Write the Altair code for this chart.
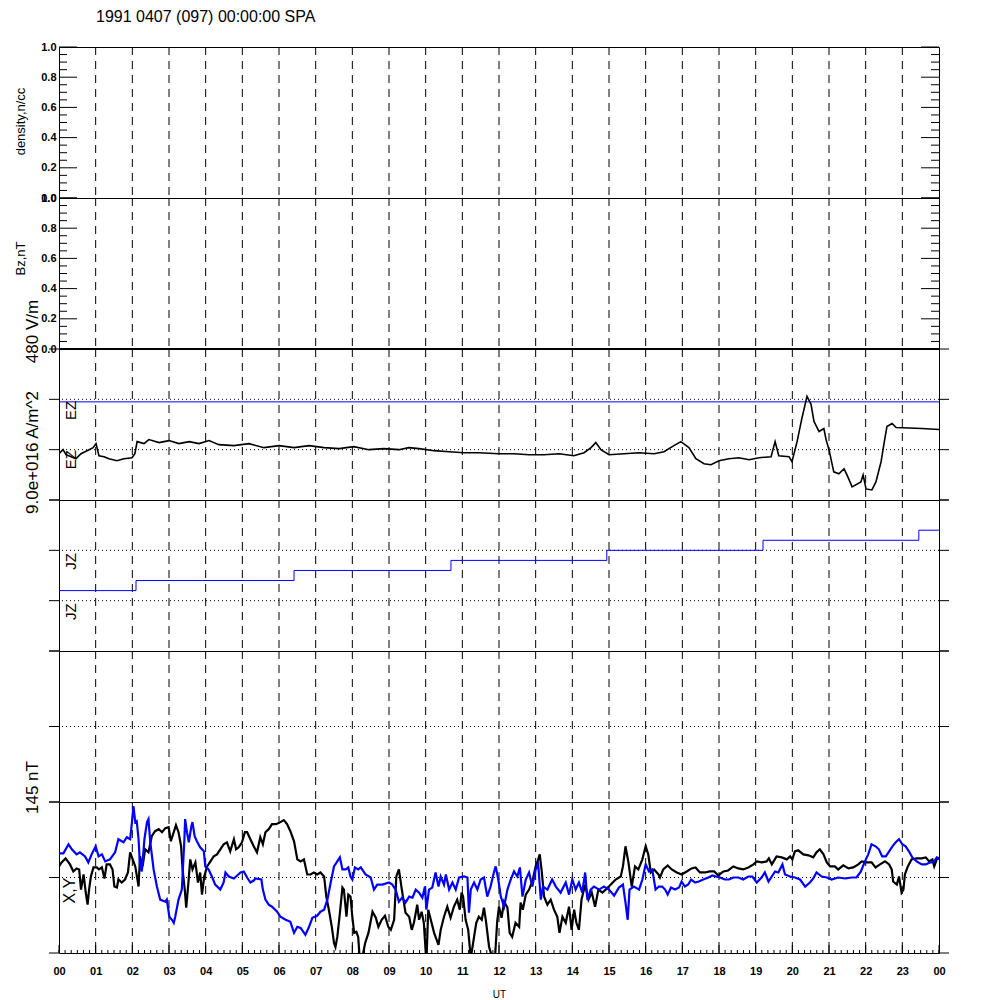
import altair as alt
import pandas as pd

FONT = "Liberation Sans"
W = 880
H = 151

# ---------------- data ----------------
title_text = "1991 0407 (097) 00:00:00 SPA"

unit_major = [0.0, 0.2, 0.4, 0.6, 0.8, 1.0]
unit_minor = [0.05, 0.1, 0.15, 0.25, 0.3, 0.35, 0.45, 0.5, 0.55, 0.65, 0.7, 0.75, 0.85, 0.9, 0.95]

hour_lines = list(range(1, 24))
hour_ticks = list(range(0, 25))
minor_ticks = [i / 6 for i in range(0, 145)]

bz_h = [0.0, 24.0]
bz_v = [0.0, 0.0]

ez_h = [0.00, 0.11, 0.19, 0.33, 0.46, 0.60, 0.71, 0.82, 0.93, 1.01, 1.09, 1.23, 1.36, 1.58, 1.77,
        1.99, 2.07, 2.13, 2.32, 2.45, 2.73, 3.00, 3.27, 3.55, 3.82, 4.09, 4.36, 4.77, 5.18, 5.59,
        6.00, 6.41, 6.82, 7.23, 7.64, 8.04, 8.45, 8.86, 9.27, 9.54, 9.82, 10.23, 10.64, 11.04,
        11.45, 12.00, 12.41, 12.82, 13.23, 13.64, 14.04, 14.32, 14.51, 14.64, 14.78, 15.00, 15.41,
        15.82, 16.23, 16.50, 16.77, 16.96, 17.18, 17.37, 17.59, 17.78, 18.00, 18.27, 18.54, 18.82,
        19.09, 19.42, 19.53, 19.63, 19.91, 19.99, 20.13, 20.26, 20.40, 20.51, 20.59, 20.73, 20.86,
        20.92, 21.00, 21.13, 21.27, 21.41, 21.49, 21.63, 21.87, 21.93, 22.01, 22.17, 22.28, 22.42,
        22.50, 22.58, 22.72, 22.83, 23.53, 24.00]
ez_v = [-4, 0, -5, -7, -9, -4, -2, 0, 2, 6, -6, -7, -9, -11, -9,
        -8, -4, 8, 6, 10, 7, 9, 6, 8, 6, 9, 5, 4, 6, 2,
        4, 2, 4, 2, 1, 3, 0, 1, 0, 2, 1, -1, -2, -3,
        -3, -4, -4, -5, -5, -4, -6, -3, 2, 7, 0, -5, -4,
        -3, -4, -2, 4, 8, 2, -9, -14, -15, -11, -9, -8, -10,
        -8, -7, 8, -6, -7, -12, 8, 31, 53, 45, 28, 18, 21,
        10, 0, -22, -24, -19, -25, -37, -32, -25, -39, -40, -32, -12,
        6, 23, 26, 22, 21, 20]

ey_h = [0.0, 24.0]
ey_v = [47.5, 47.5]

jz_h = [0.0, 2.10, 6.41, 10.69, 14.94, 19.20, 23.45, 24.0]
jz_v = [60, 70, 80, 90, 100, 110, 120, 120]

bx_h = [0.00, 0.07, 0.18, 0.30, 0.39, 0.48, 0.55, 0.60, 0.67, 0.73, 0.78, 0.82, 0.87, 0.94, 1.03,
        1.09, 1.17, 1.24, 1.30, 1.39, 1.46, 1.51, 1.58, 1.62, 1.71, 1.80, 1.88, 1.94, 2.01, 2.08,
        2.14, 2.17, 2.21, 2.28, 2.35, 2.44, 2.53, 2.62, 2.72, 2.81, 2.90, 2.99, 3.05, 3.13, 3.19,
        3.26, 3.33, 3.37, 3.43, 3.47, 3.52, 3.58, 3.64, 3.72, 3.79, 3.85, 3.90, 3.96, 4.04, 4.13,
        4.22, 4.31, 4.40, 4.49, 4.58, 4.67, 4.77, 4.83, 4.90, 4.99, 5.07, 5.13, 5.22, 5.31, 5.40,
        5.49, 5.56, 5.63, 5.72, 5.81, 5.92, 6.04, 6.13, 6.22, 6.31, 6.41, 6.50, 6.59, 6.68, 6.77,
        6.86, 6.95, 7.04, 7.13, 7.23, 7.29, 7.36, 7.44, 7.50, 7.54, 7.59, 7.65, 7.73, 7.77, 7.84,
        7.89, 7.95, 8.00, 8.05, 8.11, 8.16, 8.20, 8.27, 8.35, 8.44, 8.55, 8.64, 8.71, 8.80, 8.89,
        8.98, 9.05, 9.14, 9.20, 9.27, 9.35, 9.45, 9.55, 9.62, 9.68, 9.77, 9.82, 9.89, 9.95, 10.02,
        10.07, 10.14, 10.23, 10.35, 10.41, 10.50, 10.59, 10.68, 10.77, 10.86, 10.93, 10.98, 11.02,
        11.09, 11.16, 11.23, 11.32, 11.38, 11.45, 11.53, 11.59, 11.64, 11.73, 11.82, 11.89, 11.95,
        12.00, 12.07, 12.14, 12.23, 12.29, 12.36, 12.45, 12.55, 12.59, 12.65, 12.73, 12.82, 12.91,
        13.00, 13.07, 13.11, 13.16, 13.23, 13.32, 13.41, 13.50, 13.59, 13.65, 13.73, 13.82, 13.91,
        13.98, 14.05, 14.11, 14.18, 14.25, 14.35, 14.44, 14.53, 14.62, 14.71, 14.82, 14.91, 15.05,
        15.18, 15.32, 15.38, 15.45, 15.53, 15.62, 15.71, 15.80, 15.91, 16.00, 16.07, 16.14, 16.23,
        16.35, 16.39, 16.48, 16.60, 16.71, 16.85, 16.98, 17.12, 17.25, 17.36, 17.48, 17.62, 17.75,
        17.87, 17.98, 18.12, 18.25, 18.39, 18.53, 18.66, 18.80, 18.94, 19.03, 19.16, 19.30, 19.36,
        19.44, 19.57, 19.71, 19.85, 19.94, 20.00, 20.07, 20.16, 20.30, 20.44, 20.57, 20.66, 20.75,
        20.85, 20.94, 21.03, 21.16, 21.25, 21.39, 21.53, 21.66, 21.80, 21.89, 22.03, 22.16, 22.27,
        22.39, 22.53, 22.64, 22.71, 22.75, 22.85, 22.91, 22.98, 23.03, 23.07, 23.15, 23.25, 23.39,
        23.53, 23.64, 23.73, 23.82, 23.87, 23.94, 24.00]
bx_v = [11, 15, 19, 13, 6, 9, 8, -12, 3, -15, -27, -12, 1, 10, 10,
        8, 10, -1, 13, 13, 8, -9, -10, -2, -5, -2, 5, 25, 18, 11,
        -2, -9, 21, 11, 28, 25, 41, 46, 48, 45, 49, 50, 36, 45, 52,
        45, 31, 8, -12, -30, -9, 18, 8, 15, -5, 5, -17, 1, 11, 16,
        21, 23, 28, 33, 35, 26, 38, 28, 30, 35, 45, 45, 38, 31, 25,
        40, 33, 45, 48, 53, 53, 55, 57, 53, 46, 36, 18, 16, 18, 3,
        3, 5, 3, 5, 1, -19, -32, -49, -65, -69, -59, -39, -10, -12, -39,
        -17, -19, -39, -55, -54, -59, -80, -80, -65, -55, -34, -40, -49, -42, -38,
        -49, -52, -42, 1, 8, -12, -35, -39, -52, -45, -27, -42, -34, -45, -85,
        -32, -42, -55, -67, -52, -39, -29, -40, -29, -22, -32, -15, -19,
        -42, -52, -80, -59, -45, -39, -42, -30, -42, -69, -80, -80, -44,
        -29, -40, -24, -30, -55, -59, -45, -49, -25, -32, -17, -12, -4,
        11, 18, 23, 8, -19, -27, -22, -32, -39, -55, -39, -45, -29,
        -52, -32, -45, -52, -22, -7, -22, -15, -29, -12, -15, -12, -7,
        -2, 1, 11, 31, 15, -9, 11, 8, 18, 31, 23, 5, 8,
        3, 0, 8, 12, 8, 5, 3, 6, 9, 10, 5, 5, 6,
        6, 2, 6, 7, 11, 9, 8, 10, 13, 16, 15, 16, 19,
        13, 21, 20, 18, 21, 18, 26, 27, 23, 22, 20, 25, 28,
        23, 15, 11, 11, 8, 12, 9, 10, 13, 16, 15, 15, 10,
        13, 16, 13, 8, -4, -7, 1, -15, -12, 3, 11, 18, 19,
        19, 20, 16, 18, 11, 18, 20]

by_h = [0.00, 0.12, 0.26, 0.35, 0.48, 0.57, 0.71, 0.80, 0.89, 1.00, 1.08, 1.17, 1.26, 1.39, 1.53,
        1.62, 1.76, 1.85, 1.94, 1.99, 2.03, 2.08, 2.12, 2.17, 2.21, 2.26, 2.33, 2.40, 2.44, 2.49,
        2.58, 2.67, 2.76, 2.90, 2.94, 3.01, 3.08, 3.13, 3.17, 3.26, 3.35, 3.42, 3.44, 3.49, 3.54,
        3.61, 3.64, 3.70, 3.76, 3.85, 3.95, 3.99, 4.08, 4.17, 4.26, 4.40, 4.49, 4.54, 4.63, 4.77,
        4.86, 4.95, 5.04, 5.13, 5.22, 5.31, 5.36, 5.52, 5.56, 5.63, 5.72, 5.81, 5.95, 6.04, 6.18,
        6.31, 6.41, 6.50, 6.59, 6.72, 6.82, 6.91, 7.04, 7.13, 7.23, 7.32, 7.41, 7.50, 7.59, 7.66,
        7.73, 7.82, 7.89, 7.95, 8.00, 8.07, 8.16, 8.23, 8.36, 8.50, 8.59, 8.68, 8.82, 9.00, 9.09,
        9.18, 9.27, 9.36, 9.45, 9.55, 9.64, 9.73, 9.82, 9.91, 9.98, 10.02, 10.09, 10.18, 10.27,
        10.35, 10.41, 10.50, 10.55, 10.64, 10.73, 10.82, 10.91, 11.05, 11.14, 11.18, 11.23, 11.32,
        11.41, 11.50, 11.59, 11.68, 11.77, 11.86, 11.91, 11.98, 12.05, 12.14, 12.23, 12.32, 12.41,
        12.50, 12.57, 12.64, 12.73, 12.82, 12.91, 13.00, 13.07, 13.14, 13.20, 13.32, 13.45, 13.55,
        13.68, 13.82, 13.91, 14.00, 14.09, 14.18, 14.27, 14.35, 14.41, 14.50, 14.59, 14.73, 14.86,
        15.00, 15.14, 15.27, 15.38, 15.45, 15.51, 15.56, 15.68, 15.82, 15.91, 16.00, 16.09, 16.18,
        16.27, 16.36, 16.45, 16.53, 16.60, 16.69, 16.80, 16.91, 16.98, 17.07, 17.16, 17.24, 17.35,
        17.45, 17.57, 17.71, 17.82, 17.91, 18.03, 18.16, 18.27, 18.39, 18.53, 18.66, 18.80, 18.91,
        19.03, 19.16, 19.25, 19.35, 19.44, 19.53, 19.62, 19.73, 19.80, 19.94, 20.07, 20.21, 20.35,
        20.48, 20.57, 20.66, 20.80, 20.94, 21.07, 21.25, 21.44, 21.62, 21.75, 21.87, 21.98, 22.07,
        22.16, 22.27, 22.36, 22.45, 22.55, 22.64, 22.73, 22.82, 22.91, 23.00, 23.09, 23.18, 23.27,
        23.39, 23.53, 23.64, 23.75, 23.85, 23.94, 24.00]
by_v = [24, 24, 33, 28, 23, 25, 21, 15, 23, 31, 21, 23, 16, 18, 25,
        38, 35, 40, 38, 55, 71, 55, 56, 38, 11, 6, 38, 55, 58, 35,
        8, -9, -22, -24, -22, -39, -42, -45, -39, -22, -12, 38, 58, 45, 35,
        51, 55, 41, 36, 30, 26, 11, 8, 1, -7, -12, -5, 5, 1, -1,
        2, 5, 6, 0, -5, -3, -1, -2, -12, -22, -27, -29, -34, -39, -42,
        -44, -55, -49, -50, -57, -49, -40, -38, -34, -32, -22, -5, 11, 16, 20,
        8, 8, 10, 1, -2, 10, 8, 10, 3, 0, -12, -7, -7, -5, -7,
        -12, -24, -20, -25, -19, -20, -12, -15, -20, -9, -32, -12, -10, 5,
        -9, 1, -7, 3, -12, -5, -12, 0, 1, 0, -35, -12, -5,
        -12, -2, 0, -19, -9, 5, 11, -2, -19, -29, -12, -2, 6,
        1, 10, -19, -2, 5, -9, 8, 13, -22, -9, -12, -2, -9,
        -15, -5, -17, -2, -12, -5, -15, 5, -22, -12, -9, -12, -9,
        -12, -18, -10, -7, -25, -42, -12, -9, -12, -2, 13, 6, 8,
        -12, -9, -9, -12, -17, -10, -12, -10, -4, -9, -7, -2, -5,
        -4, -2, 0, 2, 1, 0, -2, -2, 0, 0, -2, 1, 1,
        -5, 0, 5, -4, 1, 6, 5, 13, 3, 1, 0, -2, -9,
        -5, -1, 5, 1, 0, -2, 0, -1, 0, 0, 6, 16, 23,
        33, 31, 28, 21, 21, 26, 31, 35, 38, 33, 31, 26, 20,
        16, 13, 13, 15, 15, 20, 18]

ez_labels = ["EZ", "EZ"]
ez_label_h = [0.33, 0.33]
ez_label_v = [39, -10]
jz_labels = ["JZ", "JZ"]
jz_label_h = [0.33, 0.33]
jz_label_v = [89, 39]
xy_labels = ["X,Y"]
xy_label_h = [0.30]
xy_label_v = [-13]

# ---------------- helpers ----------------
XS = alt.Scale(domain=[0, 24], nice=False, zero=False)
PX = 24.0 / W  # hours per pixel (tick lengths)
hour_df = pd.DataFrame({"h": hour_lines})
RES = dict(x="independent", y="independent")


def vdash():
    return alt.Chart(hour_df).mark_rule(color="black", strokeDash=[8, 6], strokeWidth=1).encode(
        x=alt.X("h:Q", scale=XS, axis=None))


def ticks(values, ys, spans):
    rows = [{"v": v, "a": a * PX, "b": b * PX} for v in values for (a, b) in spans]
    return alt.Chart(pd.DataFrame(rows)).mark_rule(color="black", strokeWidth=1, clip=False).encode(
        x=alt.X("a:Q", scale=XS, axis=None), x2="b:Q", y=alt.Y("v:Q", scale=ys, axis=None))


def ytitle(title, tx, ty, size):
    return dict(title=title, titleX=tx, titleY=ty, titleAngle=270, titleAlign="center",
                titleBaseline="middle", titleFontSize=size, titleFontWeight="normal",
                titleFont=FONT, titleColor="black")


def unit_panel(title, ty, extra=None):
    ys = alt.Scale(domain=[0, 1], nice=False, zero=False)
    left_axis = alt.Axis(values=unit_major, format=".1f", ticks=False, tickSize=0, domain=False,
                         grid=False, labelFontSize=11, labelFontWeight="bold", labelFont=FONT,
                         labelColor="black", labelPadding=3, labelOverlap=False,
                         **ytitle(title, -39, ty, 13))
    lab = alt.Chart(pd.DataFrame({"v": unit_major})).mark_point(opacity=0).encode(
        y=alt.Y("v:Q", scale=ys, axis=left_axis))
    layers = [vdash(), lab,
              ticks(unit_major, ys, [(0, 18), (W - 18, W)]),
              ticks(unit_minor, ys, [(0, 8), (W - 8, W)])]
    if extra is not None:
        layers.append(extra(ys))
    return alt.layer(*layers).properties(width=W, height=H).resolve_axis(**RES)


def title_layer(ys, title, ty, size=17):
    ax = alt.Axis(ticks=False, labels=False, domain=False, grid=False, **ytitle(title, -27, ty, size))
    return alt.Chart(pd.DataFrame({"v": [0]})).mark_point(opacity=0).encode(
        y=alt.Y("v:Q", scale=ys, axis=ax))


def dotted(vals, ys):
    return alt.Chart(pd.DataFrame({"v": vals})).mark_rule(
        color="black", strokeDash=[1, 3], strokeWidth=1).encode(
        y=alt.Y("v:Q", scale=ys, axis=None))


def labels(hs, vs, ts, ys, size):
    return alt.Chart(pd.DataFrame({"h": hs, "v": vs, "t": ts})).mark_text(
        angle=270, fontSize=size, font=FONT, color="black", align="center", baseline="middle").encode(
        x=alt.X("h:Q", scale=XS, axis=None), y=alt.Y("v:Q", scale=ys, axis=None), text="t:N")


OUT = [(-10, 0), (W, W + 10)]


# ---------------- panels ----------------
def bz_line(ys):
    return alt.Chart(pd.DataFrame({"h": bz_h, "v": bz_v})).mark_line(
        color="black", strokeWidth=2).encode(
        x=alt.X("h:Q", scale=XS, axis=None), y=alt.Y("v:Q", scale=ys, axis=None))


p1 = unit_panel("density,n/cc", 74)
p2 = unit_panel("Bz,nT", 60, bz_line)

# EZ panel
ys3 = alt.Scale(domain=[-50, 100], nice=False, zero=False)
ez_df = pd.DataFrame({"h": ez_h, "v": ez_v})
ey_df = pd.DataFrame({"h": ey_h, "v": ey_v})
p3 = alt.layer(
    vdash(),
    title_layer(ys3, "480 V/m", -18),
    dotted([0, 50], ys3),
    ticks([-50, 0, 50, 100], ys3, OUT),
    alt.Chart(ey_df).mark_line(color="#0000ff", strokeWidth=1).encode(
        x=alt.X("h:Q", scale=XS, axis=None), y=alt.Y("v:Q", scale=ys3, axis=None)),
    alt.Chart(ez_df).mark_line(color="black", strokeWidth=1.6, clip=True).encode(
        x=alt.X("h:Q", scale=XS, axis=None), y=alt.Y("v:Q", scale=ys3, axis=None)),
    labels(ez_label_h, ez_label_v, ez_labels, ys3, 15),
).properties(width=W, height=H).resolve_axis(**RES)

# JZ panel
ys4 = alt.Scale(domain=[0, 150], nice=False, zero=False)
jz_df = pd.DataFrame({"h": jz_h, "v": jz_v})
p4 = alt.layer(
    vdash(),
    title_layer(ys4, "9.0e+016 A/m^2", -48),
    dotted([50, 100], ys4),
    ticks([0, 50, 100, 150], ys4, OUT),
    alt.Chart(jz_df).mark_line(color="#0000ff", strokeWidth=1, interpolate="step-after").encode(
        x=alt.X("h:Q", scale=XS, axis=None), y=alt.Y("v:Q", scale=ys4, axis=None)),
    labels(jz_label_h, jz_label_v, jz_labels, ys4, 15),
).properties(width=W, height=H).resolve_axis(**RES)

# empty panel
ys5 = alt.Scale(domain=[0, 1], nice=False, zero=False)
p5 = alt.layer(
    vdash(),
    dotted([0.5], ys5),
    ticks([0, 0.5, 1], ys5, OUT),
).properties(width=W, height=H).resolve_axis(**RES)

# X,Y panel
ys6 = alt.Scale(domain=[-75, 75], nice=False, zero=False)
xaxis_bottom = alt.Axis(
    orient="bottom",
    values=hour_ticks,
    labelExpr="(datum.value % 24 < 10 ? '0' : '') + (datum.value % 24)",
    ticks=False, tickSize=0, domain=False, grid=False, labelFont=FONT, labelFontSize=11,
    labelFontWeight="bold", labelColor="black", labelPadding=12, labelFlush=False,
    labelOverlap=False, title="UT", titleFont=FONT, titleFontSize=10, titleFontWeight="normal",
    titleColor="black", titlePadding=13)
bx_df = pd.DataFrame({"h": bx_h, "v": bx_v})
by_df = pd.DataFrame({"h": by_h, "v": by_v})
minor_df = pd.DataFrame({"h": minor_ticks})
hourt_df = pd.DataFrame({"h": hour_ticks})
p6 = alt.layer(
    vdash(),
    title_layer(ys6, "145 nT", -15),
    dotted([0], ys6),
    ticks([-75, 0, 75], ys6, OUT),
    alt.Chart(minor_df).mark_rule(color="black").encode(
        x=alt.X("h:Q", scale=XS, axis=xaxis_bottom), y=alt.value(H - 3), y2=alt.value(H)),
    alt.Chart(hourt_df).mark_rule(color="black").encode(
        x=alt.X("h:Q", scale=XS, axis=None), y=alt.value(H - 8), y2=alt.value(H)),
    alt.Chart(bx_df).mark_line(color="black", strokeWidth=2.2, clip=True).encode(
        x=alt.X("h:Q", scale=XS, axis=None), y=alt.Y("v:Q", scale=ys6, axis=None)),
    alt.Chart(by_df).mark_line(color="#0000ff", strokeWidth=2.2, clip=True).encode(
        x=alt.X("h:Q", scale=XS, axis=None), y=alt.Y("v:Q", scale=ys6, axis=None)),
    labels(xy_label_h, xy_label_v, xy_labels, ys6, 16),
).properties(width=W, height=H).resolve_axis(**RES)

chart = alt.vconcat(p1, p2, p3, p4, p5, p6, spacing=0, bounds="flush").properties(
    title=alt.TitleParams(text=title_text, anchor="start", frame="group", dx=37, offset=16,
                          fontSize=16, font=FONT, fontWeight="normal", color="black"),
    padding={"left": 5, "top": 0, "right": 5, "bottom": 5},
    background="white",
).configure_view(stroke="black", strokeWidth=1)

chart.save("out.html", embed_options={"renderer": "svg", "actions": False})
